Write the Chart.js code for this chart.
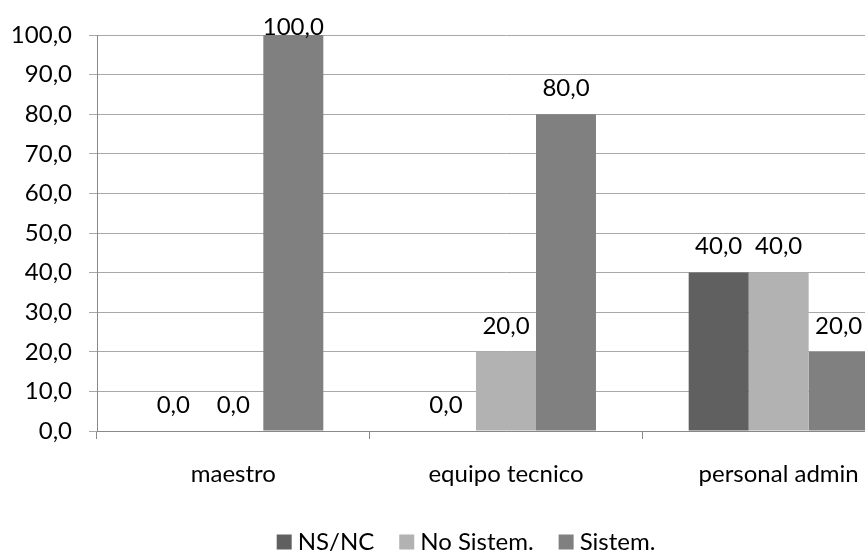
<!DOCTYPE html>
<html>
<head>
<meta charset="utf-8">
<script src="https://cdn.jsdelivr.net/npm/chart.js@4.4.1/dist/chart.umd.min.js"></script>
<style>
  html, body { margin: 0; padding: 0; background: #fff; overflow: hidden; width: 865px; height: 553px; }
  #wrap { position: relative; width: 916px; height: 553px; }
</style>
</head>
<body>
<div id="wrap"><canvas id="c" width="916" height="553"></canvas></div>
<script>
// Categories and series
const categories = ['maestro', 'equipo tecnico', 'personal admin'];
const seriesNames = ['NS/NC', 'No Sistem.', 'Sistem.'];
const nsnc     = [0.0, 0.0, 40.0];
const noSistem = [0.0, 20.0, 40.0];
const sistem   = [100.0, 80.0, 20.0];

// Value axis
const yMin = 0, yMax = 100, yStep = 10;

const colors = ['#606060', '#b2b2b2', '#808080'];
const FONT = 'Lato';
const fmt = v => v.toFixed(1).replace('.', ',');

// Value labels above each bar
const valueLabels = {
  id: 'valueLabels',
  afterDatasetsDraw(chart) {
    const ctx = chart.ctx;
    ctx.save();
    ctx.font = '24px ' + FONT;
    ctx.fillStyle = '#000';
    ctx.textAlign = 'center';
    ctx.textBaseline = 'middle';
    chart.data.datasets.forEach((ds, i) => {
      chart.getDatasetMeta(i).data.forEach((bar, j) => {
        const y = Math.max(bar.y - 26, chart.chartArea.top - 8);
        ctx.fillText(fmt(ds.data[j]), bar.x, y);
      });
    });
    ctx.restore();
  }
};

// Legend row below the axis
const bottomLegend = {
  id: 'bottomLegend',
  afterDraw(chart) {
    const ctx = chart.ctx;
    ctx.save();
    ctx.font = '24px ' + FONT;
    ctx.textBaseline = 'middle';
    const box = 15, gapBox = 6, gapItem = 25;
    const items = chart.data.datasets.map(ds => ({
      text: ds.label, color: ds.backgroundColor, w: ctx.measureText(ds.label).width
    }));
    const total = items.reduce((s, it) => s + box + gapBox + it.w, 0) + gapItem * (items.length - 1);
    let x = 466 - total / 2;
    const cy = 542;
    items.forEach(it => {
      ctx.fillStyle = it.color;
      ctx.fillRect(x, cy - box / 2, box, box);
      x += box + gapBox;
      ctx.fillStyle = '#000';
      ctx.textAlign = 'left';
      ctx.fillText(it.text, x, cy);
      x += it.w + gapItem;
    });
    ctx.restore();
  }
};

new Chart(document.getElementById('c'), {
  type: 'bar',
  data: {
    labels: categories,
    datasets: [
      { label: seriesNames[0], data: nsnc,     backgroundColor: colors[0] },
      { label: seriesNames[1], data: noSistem, backgroundColor: colors[1] },
      { label: seriesNames[2], data: sistem,   backgroundColor: colors[2] }
    ]
  },
  options: {
    responsive: false,
    animation: false,
    layout: { padding: { top: 35, right: 1, bottom: 0, left: 0 } },
    datasets: { bar: { categoryPercentage: 0.66, barPercentage: 1.0, borderWidth: 0 } },
    plugins: { legend: { display: false }, tooltip: { enabled: false } },
    scales: {
      x: {
        grid: { drawOnChartArea: false, drawTicks: true, tickLength: 8, color: '#888' },
        border: { color: '#888', width: 1 },
        ticks: { color: '#000', font: { family: FONT, size: 24 }, padding: 21, maxRotation: 0 },
        afterFit(scale) { scale.height = 122; }
      },
      y: {
        min: yMin, max: yMax,
        ticks: { stepSize: yStep, color: '#000', font: { family: FONT, size: 24 }, padding: 17,
                 callback: v => fmt(v) },
        grid: { color: '#a8a8a8', tickLength: 8 },
        border: { color: '#888', width: 1 },
        afterFit(scale) { scale.width = 97; }
      }
    }
  },
  plugins: [valueLabels, bottomLegend]
});
</script>
</body>
</html>
